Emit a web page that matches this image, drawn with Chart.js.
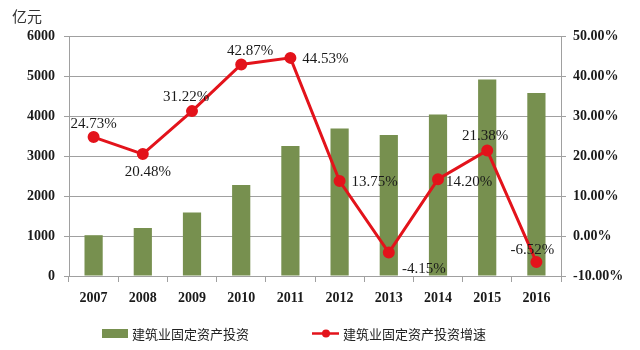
<!DOCTYPE html>
<html>
<head>
<meta charset="utf-8">
<script src="https://cdn.jsdelivr.net/npm/chart.js@4"></script>
<style>
  html, body { margin: 0; padding: 0; background: #fff; }
  #wrap { width: 640px; height: 350px; position: relative; }
</style>
</head>
<body>
<div id="wrap"><canvas id="chart"></canvas></div>
<script>
// data
const years = ['2007', '2008', '2009', '2010', '2011', '2012', '2013', '2014', '2015', '2016'];
const investment = [1020, 1200, 1590, 2275, 3250, 3690, 3525, 4040, 4915, 4575];
const growth = [24.73, 20.48, 31.22, 42.87, 44.53, 13.75, -4.15, 14.20, 21.38, -6.52];
const leftTicks = [0, 1000, 2000, 3000, 4000, 5000, 6000];
const rightTicks = [-10, 0, 10, 20, 30, 40, 50];
const barName = '建筑业固定资产投资';
const lineName = '建筑业固定资产投资增速';
const unit = '亿元';

// label placement (px offsets from each point)
const labelDx = [0, 5, -6, 9, 35, 35, 35, 31, -2, -4];
const labelDy = [-13, 18, -14, -13, 1, 1, 16, 3, -14, -12];

const green = '#77904f';
const red = '#e3131b';
const grid = '#a0a0a0';
const serif = '"Liberation Serif", "Times New Roman", serif';
const cjk = '"Noto Sans CJK SC", sans-serif';

const extras = {
    id: 'extras',
    afterDatasetsDraw(chart) {
        const ctx = chart.ctx;
        const meta = chart.getDatasetMeta(1);
        ctx.save();
        ctx.fillStyle = '#1a1a1a';
        ctx.font = '15px ' + serif;
        ctx.textAlign = 'center';
        ctx.textBaseline = 'middle';
        meta.data.forEach((pt, i) => {
            ctx.fillText(growth[i].toFixed(2) + '%', pt.x + labelDx[i], pt.y + labelDy[i]);
        });

        // unit
        ctx.fillStyle = '#333';
        ctx.font = '15px ' + cjk;
        ctx.textAlign = 'left';
        ctx.fillText(unit, 12, 16);

        // legend
        ctx.font = '13px ' + cjk;
        ctx.fillStyle = green;
        ctx.fillRect(102, 329, 26, 9);
        ctx.fillStyle = '#222';
        ctx.fillText(barName, 132, 334);

        ctx.strokeStyle = red;
        ctx.lineWidth = 2.5;
        ctx.beginPath();
        ctx.moveTo(312, 333.5);
        ctx.lineTo(339, 333.5);
        ctx.stroke();
        ctx.fillStyle = red;
        ctx.beginPath();
        ctx.arc(326, 333.5, 4, 0, Math.PI * 2);
        ctx.fill();
        ctx.fillStyle = '#222';
        ctx.fillText(lineName, 343, 334);
        ctx.restore();
    }
};

new Chart(document.getElementById('chart').getContext('2d'), {
    type: 'bar',
    data: {
        labels: years,
        datasets: [{
            type: 'bar',
            label: barName,
            data: investment,
            backgroundColor: green,
            yAxisID: 'y',
            barPercentage: 0.74,
            categoryPercentage: 0.5,
            order: 2,
        }, {
            type: 'line',
            label: lineName,
            data: growth,
            borderColor: red,
            backgroundColor: red,
            borderWidth: 3,
            pointRadius: 4.5,
            pointHoverRadius: 4.5,
            tension: 0,
            yAxisID: 'y1',
            order: 1,
        }],
    },
    options: {
        responsive: true,
        maintainAspectRatio: false,
        animation: false,
        layout: { padding: { top: 36, bottom: 44, left: 0, right: 0 } },
        plugins: {
            legend: { display: false },
            tooltip: { enabled: false },
        },
        scales: {
            x: {
                grid: { display: true, offset: true, drawOnChartArea: false, color: grid, tickLength: 6 },
                border: { color: grid },
                ticks: { color: '#1a1a1a', font: { family: serif, size: 14, weight: 'bold' }, padding: 8 },
                afterFit(scale) { scale.height = 30; },
            },
            y: {
                position: 'left',
                min: 0,
                max: 6000,
                afterBuildTicks(scale) { scale.ticks = leftTicks.map(v => ({ value: v })); },
                grid: { color: grid, tickLength: 5 },
                border: { color: grid },
                ticks: {
                    color: '#1a1a1a',
                    font: { family: serif, size: 14, weight: 'bold' },
                    padding: 9,
                    callback: v => String(v),
                },
                afterFit(scale) { scale.width = 69; },
            },
            y1: {
                position: 'right',
                min: -10,
                max: 50,
                afterBuildTicks(scale) { scale.ticks = rightTicks.map(v => ({ value: v })); },
                grid: { drawOnChartArea: false, color: grid, tickLength: 5 },
                border: { color: grid },
                ticks: {
                    color: '#1a1a1a',
                    font: { family: serif, size: 14, weight: 'bold' },
                    padding: 7,
                    callback: v => v.toFixed(2) + '%',
                },
                afterFit(scale) { scale.width = 79; },
            },
        },
    },
    plugins: [extras],
});
</script>
</body>
</html>
